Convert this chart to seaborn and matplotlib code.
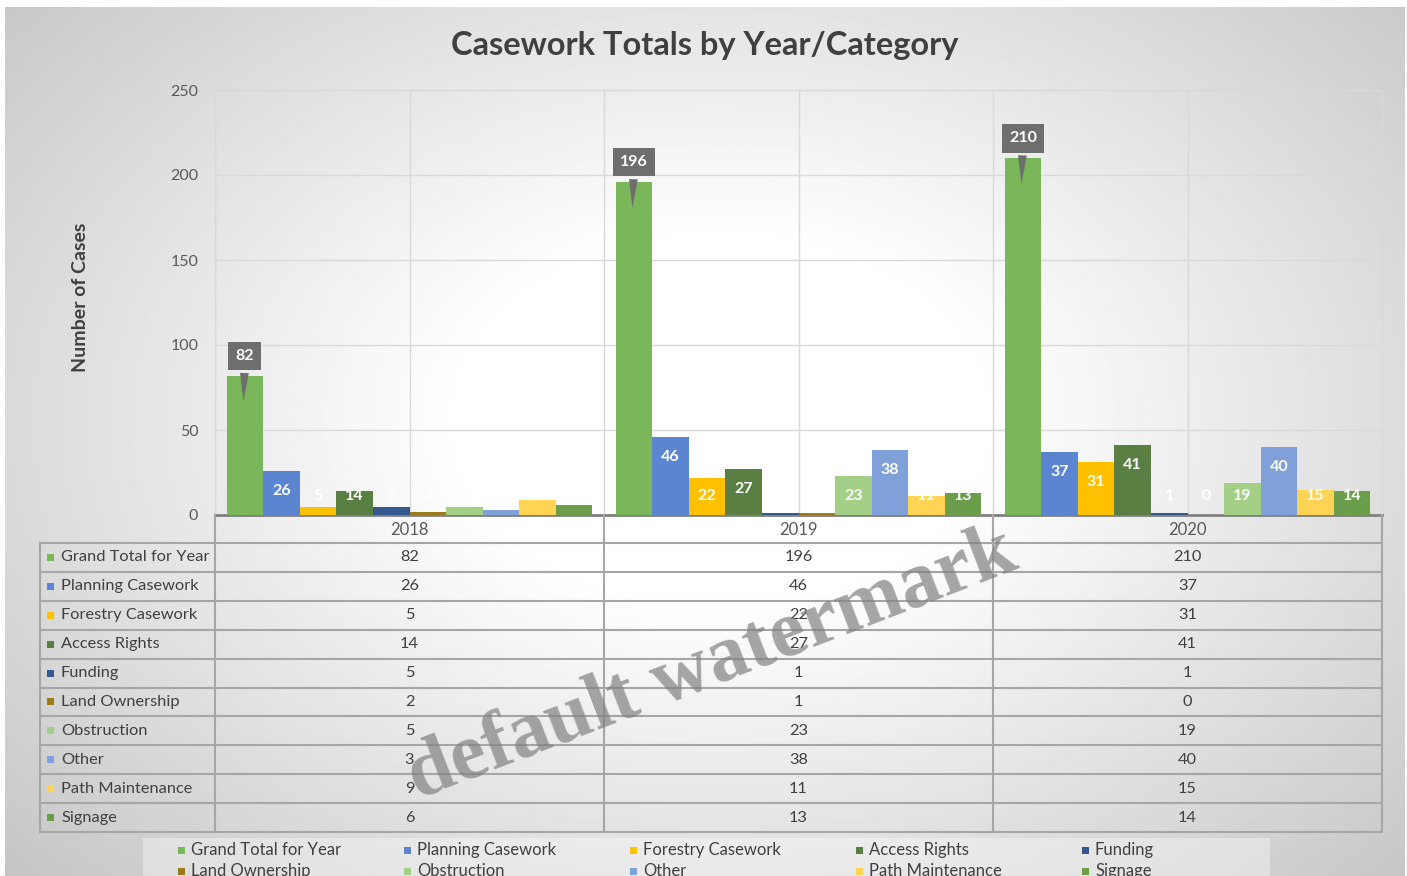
import numpy as np
import pandas as pd
import matplotlib
matplotlib.use("Agg")
import matplotlib.pyplot as plt
import seaborn as sns
from matplotlib.patches import Rectangle

# ---------------- data ----------------
years = ["2018", "2019", "2020"]
categories = ["Grand Total for Year", "Planning Casework", "Forestry Casework",
              "Access Rights", "Funding", "Land Ownership", "Obstruction",
              "Other", "Path Maintenance", "Signage"]
grand_total = [82, 196, 210]
planning = [26, 46, 37]
forestry = [5, 22, 31]
access_rights = [14, 27, 41]
funding = [5, 1, 1]
land_ownership = [2, 1, 0]
obstruction = [5, 23, 19]
other = [3, 38, 40]
path_maintenance = [9, 11, 15]
signage = [6, 13, 14]
yticks = [0, 50, 100, 150, 200, 250]

colors = ["#7AB75A", "#5B85D0", "#FFC000", "#5A7F43", "#34598F",
          "#9C7A1E", "#A4CF87", "#7FA0D8", "#FFD454", "#6A9E4B"]

series = [grand_total, planning, forestry, access_rights, funding,
          land_ownership, obstruction, other, path_maintenance, signage]
df = pd.DataFrame([(y, c, v) for c, vals in zip(categories, series)
                   for y, v in zip(years, vals)],
                  columns=["Year", "Category", "Cases"])

plt.rcParams["font.family"] = ["Lato", "DejaVu Sans"]
TXT = "#404040"

W, H = 1407, 876
fig = plt.figure(figsize=(W / 100, H / 100), dpi=100)
fig.patch.set_facecolor("white")

# ---------------- background gradient ----------------
bg = fig.add_axes([5 / W, 0, 1400 / W, 869 / H], zorder=-10)
bg.set_axis_off()
xx, yy = np.meshgrid(np.linspace(5, 1405, 400), np.linspace(7, 876, 300))
r = np.sqrt(((xx - 720) / 750) ** 2 + ((yy - 420) / 520) ** 2)
g = np.clip(1.0 - 0.24 * np.clip(r - 0.35, 0, None), 0, 1)
bg.imshow(g, cmap="gray", vmin=0, vmax=1, aspect="auto")

# ---------------- main axes ----------------
ax = fig.add_axes([215 / W, 1 - 515 / H, (1382 - 215) / W, (515 - 90) / H])
ax.patch.set_alpha(0)
sns.barplot(data=df, x="Year", y="Cases", hue="Category", hue_order=categories,
            order=years, palette=colors, width=0.94, gap=0, saturation=1,
            linewidth=0, legend=False, ax=ax, zorder=3)
ax.set_xlim(-0.5, 2.5)
ax.set_ylim(0, 250)
ax.set_yticks(yticks)
ax.set_yticklabels([str(t) for t in yticks], fontsize=11.5, color="#595959")
ax.tick_params(axis="y", length=0, pad=12)
ax.set_xticks([0, 1, 2])
ax.set_xticklabels(years, fontsize=12, color="#595959")
ax.tick_params(axis="x", length=0, pad=5)
ax.set_xticks([-0.5, 0.5, 1.5, 2.5], minor=True)
ax.tick_params(axis="x", which="minor", length=0)
ax.set_xlabel("")
ax.set_ylabel("")
ax.set_axisbelow(True)
ax.grid(axis="y", color="#d9d9d9", lw=1)
ax.grid(axis="x", which="both", color="#d9d9d9", lw=1)
for s in ["top", "right", "left"]:
    ax.spines[s].set_color("#d9d9d9")
    ax.spines[s].set_linewidth(1)
ax.spines["bottom"].set_color("#808080")
ax.spines["bottom"].set_linewidth(2)

# data labels
for i, vals in enumerate(series):
    cont = ax.containers[i]
    for j, v in enumerate(vals):
        bar = cont[j]
        xc = bar.get_x() + bar.get_width() / 2
        if i == 0:
            ax.annotate(str(v), xy=(xc - 0.004, v - 17), xytext=(xc, v + 11.5),
                        ha="center", va="center", color="white",
                        fontweight="bold", fontsize=11.5, zorder=6,
                        bbox=dict(boxstyle="square,pad=0.45", fc="#6e6e6e", ec="none"),
                        arrowprops=dict(arrowstyle="wedge,tail_width=0.55,shrink_factor=0.5",
                                        fc="#6e6e6e", ec="none"))
        else:
            ax.text(xc, max(v - 11.8, 11), str(v), ha="center", va="center",
                    color="white", fontweight="bold", fontsize=11.5, zorder=5)

# ---------------- overlay (table, legend, texts) ----------------
ov = fig.add_axes([0, 0, 1, 1], zorder=5)
ov.set_xlim(0, W)
ov.set_ylim(H, 0)
ov.set_axis_off()
ov.patch.set_alpha(0)

LC = "#a6a6a6"
col_edges = [215, 604, 993, 1382]
row_h = (832 - 543) / 10
for k in range(11):
    y = 543 + k * row_h
    ov.plot([40, 1382], [y, y], color=LC, lw=1.5, solid_capstyle="butt")
ov.plot([40, 40], [543, 832], color=LC, lw=1.5)
for x in col_edges:
    ov.plot([x, x], [515, 832], color=LC, lw=1.5)

for k, (cat, vals) in enumerate(zip(categories, series)):
    yc = 543 + (k + 0.5) * row_h
    ov.add_patch(Rectangle((47, yc - 3.5), 7, 7, color=colors[k], lw=0))
    ov.text(61, yc, cat, ha="left", va="center", fontsize=11.8, color=TXT)
    for j, v in enumerate(vals):
        xc = (col_edges[j] + col_edges[j + 1]) / 2
        ov.text(xc, yc, str(v), ha="center", va="center", fontsize=11.8, color=TXT)

# legend box
ov.add_patch(Rectangle((143, 838), 1270 - 143, 60, fc="white", alpha=0.35, lw=0))
for k, cat in enumerate(categories):
    c, rr = k % 5, k // 5
    x0 = 178 + c * 226
    y0 = 850 + rr * 21
    ov.add_patch(Rectangle((x0, y0 - 3.5), 7, 7, color=colors[k], lw=0))
    ov.text(x0 + 13, y0, cat, ha="left", va="center", fontsize=12, color=TXT)

# title and y-label
ov.text(705, 45, "Casework Totals by Year/Category", ha="center", va="center",
        fontsize=23.5, fontweight="bold", color=TXT)
ov.text(80, 297, "Number of Cases", ha="center", va="center", rotation=90,
        fontsize=14, fontweight="bold", color=TXT)

# watermark
ov.text(712, 665, "default watermark", ha="center", va="center", rotation=21,
        rotation_mode="anchor", family=["Liberation Serif", "DejaVu Serif"],
        fontweight="bold", fontsize=58, color="#808080", alpha=0.70, zorder=10)

fig.savefig("out.png", dpi=100, facecolor=fig.get_facecolor())
